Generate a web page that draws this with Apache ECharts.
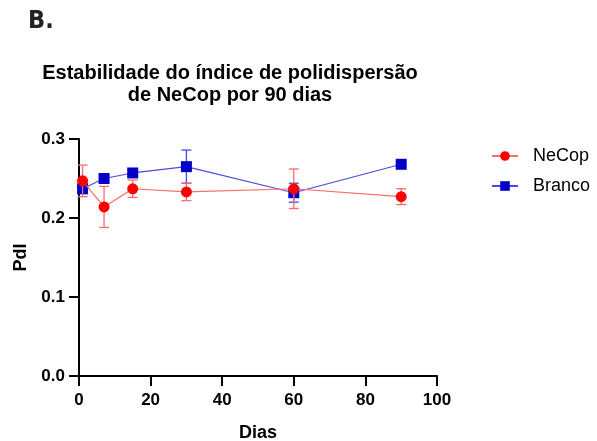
<!DOCTYPE html>
<html><head><meta charset="utf-8">
<script src="https://cdn.jsdelivr.net/npm/echarts@6/dist/echarts.min.js"></script>
<style>html,body{margin:0;padding:0;background:#fff}#c{width:597px;height:441px}</style>
</head><body><div id="c"></div>
<script>
const days = [1, 7, 15, 30, 60, 90];
const necopMean = [0.247, 0.214, 0.237, 0.233, 0.237, 0.227];
const necopSD   = [0.020, 0.026, 0.011, 0.011, 0.025, 0.010];
const brancoMean = [0.237, 0.250, 0.257, 0.265, 0.232, 0.268];
const brancoSD   = [0.006, 0.003, 0.003, 0.021, 0.012, 0.003];
const xTicks = [0, 20, 40, 60, 80, 100];
const yTicks = [0.0, 0.1, 0.2, 0.3];

const RED = '#ff0000', RED_L = '#ff6a6a';
const BLUE = '#0000c8', BLUE_L = '#4a4ae0';

function errData(mean, sd) {
  return days.map((d, i) => [d, mean[i] - sd[i], mean[i] + sd[i]]);
}
function errSeries(name, mean, sd, color, z) {
  return {
    type: 'custom', name: name + '_err', z: z, silent: true,
    data: errData(mean, sd),
    renderItem: function (params, api) {
      const x = api.value(0);
      const lo = api.coord([x, api.value(1)]);
      const hi = api.coord([x, api.value(2)]);
      const w = 5;
      const st = { stroke: color, lineWidth: 1.3 };
      return { type: 'group', children: [
        { type: 'line', shape: { x1: lo[0], y1: lo[1], x2: hi[0], y2: hi[1] }, style: st },
        { type: 'line', shape: { x1: lo[0] - w, y1: lo[1], x2: lo[0] + w, y2: lo[1] }, style: st },
        { type: 'line', shape: { x1: hi[0] - w, y1: hi[1], x2: hi[0] + w, y2: hi[1] }, style: st }
      ]};
    }
  };
}

const chart = echarts.init(document.getElementById('c'));
chart.setOption({
  animation: false,
  backgroundColor: '#fff',
  title: {
    text: 'Estabilidade do índice de polidispersão\nde NeCop por 90 dias',
    left: 225, top: 57, textAlign: 'center',
    textStyle: { fontFamily: 'Liberation Sans', fontWeight: 'bold', fontSize: 20, lineHeight: 22, color: '#000' }
  },
  graphic: [{
    type: 'text', left: 28, top: 9,
    style: { text: 'B.', font: 'bold 25px "DejaVu Sans Condensed", "Liberation Sans Narrow", "Liberation Sans", sans-serif', fill: '#222' }
  }],
  legend: {
    orient: 'vertical', left: 486, top: 142,
    itemWidth: 26, itemHeight: 12, itemGap: 12,
    data: ['NeCop', 'Branco'],
    textStyle: { fontFamily: 'Liberation Sans', fontSize: 18, lineHeight: 18, color: '#000', padding: [0, 0, 0, 10] }
  },
  grid: { left: 79, right: 160, top: 139, bottom: 65, containLabel: false, outerBoundsMode: 'none' },
  xAxis: {
    type: 'value', min: 0, max: 100, interval: 20,
    name: 'Dias', nameLocation: 'middle', nameGap: 48,
    nameTextStyle: { fontFamily: 'Liberation Sans', fontWeight: 'bold', fontSize: 18, color: '#000' },
    axisLine: { show: true, lineStyle: { color: '#000', width: 2 } },
    axisTick: { show: true, inside: false, length: 10, lineStyle: { color: '#000', width: 2 } },
    axisLabel: { margin: 16, fontFamily: 'Liberation Sans', fontWeight: 'bold', fontSize: 17, color: '#000',
      formatter: v => xTicks.includes(v) ? String(v) : '' },
    splitLine: { show: false }
  },
  yAxis: {
    type: 'value', min: 0, max: 0.3, interval: 0.1,
    name: 'PdI', nameLocation: 'middle', nameGap: 45, nameRotate: 90,
    nameTextStyle: { fontFamily: 'Liberation Sans', fontWeight: 'bold', fontSize: 18, color: '#000' },
    axisLine: { show: true, lineStyle: { color: '#000', width: 2 } },
    axisTick: { show: true, inside: false, length: 10, lineStyle: { color: '#000', width: 2 } },
    axisLabel: { margin: 14, fontFamily: 'Liberation Sans', fontWeight: 'bold', fontSize: 17, color: '#000',
      formatter: v => { const t = yTicks.find(y => Math.abs(y - v) < 1e-9); return t === undefined ? '' : t.toFixed(1); } },
    splitLine: { show: false }
  },
  series: [
    {
      name: 'NeCop', type: 'line', z: 6,
      data: days.map((d, i) => [d, necopMean[i]]),
      symbol: 'circle', symbolSize: 11,
      itemStyle: { color: RED },
      lineStyle: { color: RED_L, width: 1.2 }
    },
    {
      name: 'Branco', type: 'line', z: 4,
      data: days.map((d, i) => [d, brancoMean[i]]),
      symbol: 'rect', symbolSize: 11,
      itemStyle: { color: BLUE },
      lineStyle: { color: BLUE_L, width: 1.2 }
    },
    errSeries('NeCop', necopMean, necopSD, RED_L, 5),
    errSeries('Branco', brancoMean, brancoSD, BLUE_L, 3)
  ]
});
</script></body></html>
